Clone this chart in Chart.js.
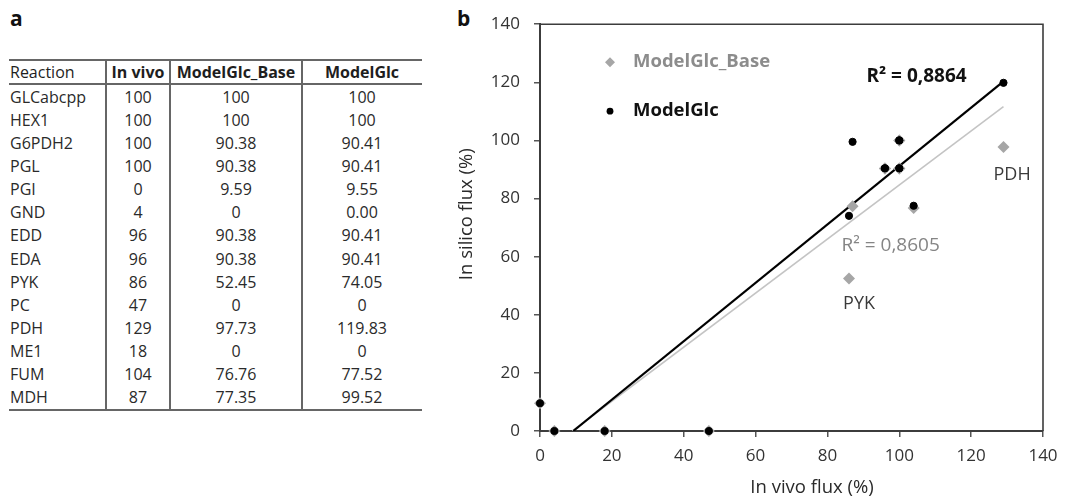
<!DOCTYPE html>
<html>
<head>
<meta charset="utf-8">
<script src="https://cdn.jsdelivr.net/npm/chart.js@4.4.1/dist/chart.umd.min.js"></script>
<style>
  html, body { margin:0; padding:0; background:#fff; }
  body { width:1067px; height:502px; position:relative; overflow:hidden; font-family:"Open Sans", sans-serif; }
  .plabel { position:absolute; font-weight:bold; font-size:21px; color:#111; line-height:24px; }
  .cell { position:absolute; height:23px; line-height:23px; font-size:16px; color:#2a2a2a; white-space:nowrap; }
  .hline, .vline { position:absolute; background:#666; }
  #wrap { position:absolute; left:440px; top:0; width:627px; height:502px; }
</style>
</head>
<body>
<div class="plabel" style="left:10px;top:6px;">a</div>
<div class="plabel" style="left:457px;top:6px;">b</div>
<div id="table"></div>
<div id="wrap"><canvas id="c" width="627" height="502"></canvas></div>
<script>
// ---------- data ----------
const tableHeaders = ['Reaction', 'In vivo', 'ModelGlc_Base', 'ModelGlc'];
const reactions    = ['GLCabcpp','HEX1','G6PDH2','PGL','PGI','GND','EDD','EDA','PYK','PC','PDH','ME1','FUM','MDH'];
const inVivo       = ['100','100','100','100','0','4','96','96','86','47','129','18','104','87'];
const modelGlcBase = ['100','100','90.38','90.38','9.59','0','90.38','90.38','52.45','0','97.73','0','76.76','77.35'];
const modelGlc     = ['100','100','90.41','90.41','9.55','0.00','90.41','90.41','74.05','0','119.83','0','77.52','99.52'];
const seriesNames  = ['ModelGlc_Base', 'ModelGlc'];
const xTickValues  = [0, 20, 40, 60, 80, 100, 120, 140];
const yTickValues  = [0, 20, 40, 60, 80, 100, 120, 140];
const trendBase    = [[9.0, 0], [129, 111.6]];
const trendGlc     = [[9.25, 0], [129, 120.3]];
const r2Texts      = ['R² = 0,8605', 'R² = 0,8864'];
const pointNotes   = ['PDH', 'PYK'];
const axisTitles   = ['In vivo flux (%)', 'In silico flux (%)'];

// ---------- table (panel a) ----------
(function buildTable(){
  const t = document.getElementById('table');
  const cols = [ {l:9, w:97, a:'left', pad:1}, {l:106, w:64, a:'center'}, {l:170, w:132, a:'center'}, {l:302, w:120, a:'center'} ];
  const rowsData = [tableHeaders].concat(reactions.map((r,i)=>[r, inVivo[i], modelGlcBase[i], modelGlc[i]]));
  rowsData.forEach((row, ri) => {
    const cy = ri === 0 ? 72 : 97 + (ri-1)*23.15;
    row.forEach((txt, ci) => {
      const d = document.createElement('div');
      d.className = 'cell';
      const c = cols[ci];
      d.style.left = (c.l + (c.pad||0)) + 'px';
      d.style.width = c.w + 'px';
      d.style.top = (cy - 11.5) + 'px';
      d.style.textAlign = c.a;
      if (ri === 0 && ci > 0) d.style.fontWeight = 'bold';
      if (ri === 0) d.style.color = '#1e1e1e';
      d.textContent = txt;
      t.appendChild(d);
    });
  });
  const lines = [
    ['hline', 9, 59, 413, 2], ['hline', 9, 83, 413, 2], ['hline', 9, 409, 413, 2],
    ['vline', 105, 59, 1.6, 352], ['vline', 169, 59, 1.6, 352], ['vline', 301, 59, 1.6, 352]
  ];
  lines.forEach(([cls, l, tp, w, h]) => {
    const d = document.createElement('div');
    d.className = cls;
    d.style.left = l+'px'; d.style.top = tp+'px'; d.style.width = w+'px'; d.style.height = h+'px';
    t.appendChild(d);
  });
})();

// ---------- chart (panel b) ----------
const toPts = (xs, ys) => xs.map((v,i)=>({x: parseFloat(v), y: parseFloat(ys[i])}));
const toLine = arr => arr.map(p => ({x:p[0], y:p[1]}));

const FONT = '"Open Sans", sans-serif';
const GRAY_PT = '#a6a6a6';

const decor = {
  id: 'decor',
  afterDatasetsDraw(chart) {
    const {ctx, chartArea: a, scales: {x, y}} = chart;
    ctx.save();
    // plot frame top/right
    ctx.strokeStyle = '#3c3c3c'; ctx.lineWidth = 1.6;
    ctx.beginPath();
    ctx.moveTo(a.left, a.top); ctx.lineTo(a.right, a.top); ctx.lineTo(a.right, a.bottom);
    ctx.stroke();

    // legend
    const lx = a.left + 70, ly1 = a.top + 38, ly2 = a.top + 87;
    ctx.fillStyle = GRAY_PT;
    ctx.beginPath();
    ctx.moveTo(lx - 5, ly1); ctx.lineTo(lx, ly1 - 5); ctx.lineTo(lx + 5, ly1); ctx.lineTo(lx, ly1 + 5);
    ctx.closePath(); ctx.fill();
    ctx.fillStyle = '#000';
    ctx.beginPath(); ctx.arc(lx, ly2, 3.4, 0, Math.PI*2); ctx.fill();
    ctx.textBaseline = 'middle'; ctx.textAlign = 'left';
    ctx.font = 'bold 18.5px ' + FONT;
    ctx.fillStyle = '#8c8c8c'; ctx.fillText(seriesNames[0], lx + 23, ly1);
    ctx.fillStyle = '#111';    ctx.fillText(seriesNames[1], lx + 23, ly2);

    // R² labels
    ctx.textAlign = 'center';
    ctx.font = 'bold 19px ' + FONT; ctx.fillStyle = '#111';
    ctx.fillText(r2Texts[1], x.getPixelForValue(104.8), y.getPixelForValue(121.9));
    ctx.font = '19px ' + FONT; ctx.fillStyle = '#858585';
    ctx.fillText(r2Texts[0], x.getPixelForValue(97.6), y.getPixelForValue(63.7));

    // point notes
    ctx.font = '18px ' + FONT; ctx.fillStyle = '#3a3a3a';
    ctx.fillText(pointNotes[0], x.getPixelForValue(131.4), y.getPixelForValue(88.3));
    ctx.fillText(pointNotes[1], x.getPixelForValue(88.8), y.getPixelForValue(43.8));

    // axis titles
    ctx.font = '18.5px ' + FONT; ctx.fillStyle = '#2a2a2a';
    ctx.fillText(axisTitles[0], a.left + 272, a.bottom + 57);
    ctx.save();
    ctx.translate(a.left - 73, a.top + 190);
    ctx.rotate(-Math.PI/2);
    ctx.fillText(axisTitles[1], 0, 0);
    ctx.restore();
    ctx.restore();
  }
};

new Chart(document.getElementById('c'), {
  type: 'scatter',
  data: {
    datasets: [
      { label: seriesNames[1], data: toPts(inVivo, modelGlc), order: 0, clip: false,
        pointStyle: 'circle', pointRadius: 3.6, pointBorderWidth: 1,
        backgroundColor: '#000', borderColor: '#000' },
      { label: seriesNames[0], data: toPts(inVivo, modelGlcBase), order: 1, clip: false,
        pointStyle: 'rectRot', pointRadius: 6, pointBorderWidth: 0,
        backgroundColor: GRAY_PT, borderColor: GRAY_PT },
      { label: 'trend ' + seriesNames[1], data: toLine(trendGlc), order: 2, showLine: true,
        pointRadius: 0, borderColor: '#000', borderWidth: 2.2, backgroundColor: '#000' },
      { label: 'trend ' + seriesNames[0], data: toLine(trendBase), order: 3, showLine: true,
        pointRadius: 0, borderColor: '#c4c4c4', borderWidth: 1.6, backgroundColor: '#c4c4c4' }
    ]
  },
  options: {
    responsive: false,
    animation: false,
    events: [],
    layout: { padding: { top: 22, right: 24, left: 0, bottom: 0 } },
    plugins: { legend: { display: false }, tooltip: { enabled: false } },
    scales: {
      x: {
        type: 'linear', min: 0, max: 140,
        afterBuildTicks(s) { s.ticks = xTickValues.map(v => ({value: v})); },
        afterFit(s) { s.height = 71; },
        grid: { drawOnChartArea: false, drawTicks: true, tickLength: 6, color: '#555', lineWidth: 1.5 },
        border: { display: true, color: '#3c3c3c', width: 2 },
        ticks: { color: '#333', font: { family: FONT, size: 17 }, padding: 9, maxRotation: 0 }
      },
      y: {
        type: 'linear', min: 0, max: 140,
        afterBuildTicks(s) { s.ticks = yTickValues.map(v => ({value: v})); },
        afterFit(s) { s.width = 100; },
        grid: { drawOnChartArea: false, drawTicks: true, tickLength: 6, color: '#555', lineWidth: 1.5 },
        border: { display: true, color: '#3c3c3c', width: 2 },
        ticks: { color: '#333', font: { family: FONT, size: 17 }, padding: 14 }
      }
    }
  },
  plugins: [decor]
});
</script>
</body>
</html>
